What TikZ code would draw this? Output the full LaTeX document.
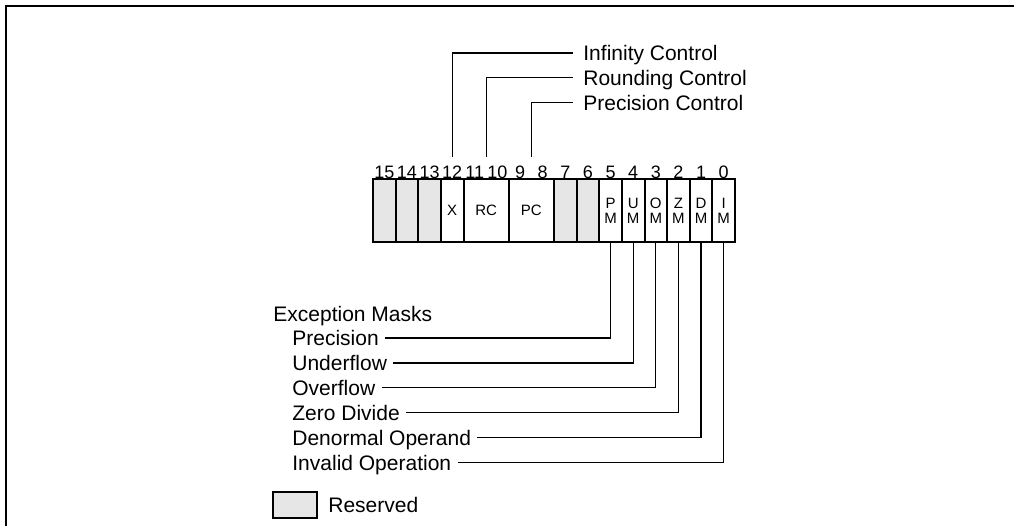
\documentclass[tikz,border=0pt]{standalone}
\usepackage{fontspec}
\setmainfont{Liberation Sans}
\usetikzlibrary{positioning}
\definecolor{resvgray}{HTML}{E6E6E6}
\tikzset{
  cell/.style={draw, line width=1pt, minimum width=11.3125pt, minimum height=31.5pt,
    inner sep=0pt, outer sep=0pt, align=center, font=\fontsize{7.5}{7.5}\selectfont},
  resv/.style={cell, fill=resvgray},
  bitnum/.style={inner sep=0pt, font=\fontsize{9}{9}\selectfont},
  lbl/.style={anchor=west, inner xsep=3pt, inner ysep=0pt, text height=7.5pt, text depth=0pt},
  wire/.style={line width=0.6pt}
}
\begin{document}
\begin{tikzpicture}[x=0.5pt, y=-0.5pt, every node/.style={font=\fontsize{10.5}{12}\selectfont}]
  \useasboundingbox (0,0) rectangle (1014,526);
  \draw[line width=1pt] (6,526) |- (1014,6);
  % register cells
  \foreach \b in {15,14,13,7,6}
    \node[resv] (b\b) at ({373+(15.5-\b)*22.625},210.5) {};
  \node[cell] (xf) at ({373+3.5*22.625},210.5) {X};
  \node[cell, minimum width=22.625pt] (rcf) at ({373+5*22.625},210.5) {RC};
  \node[cell, minimum width=22.625pt] (pcf) at ({373+7*22.625},210.5) {PC};
  \foreach \ltr [count=\i from 0] in {I,D,Z,O,U,P}
    \node[cell] (m\ltr) at ({373+(15.5-\i)*22.625},210.5) {\ltr\\M};
  \draw[line width=1.3pt] (b15.north west) rectangle (mI.south east);
  \foreach \b in {0,...,15}
    \node[bitnum] (n\b) at ({373+(15.5-\b)*22.625},172) {\b};
  % control fields
  \coordinate (tp) at (0,157);
  \node[lbl, inner xsep=5pt] (inf) at (573,53) {Infinity Control};
  \node[lbl, inner xsep=5pt] (rnd) at (573,77.5) {Rounding Control};
  \node[lbl, inner xsep=5pt] (prc) at (573,102.5) {Precision Control};
  \draw[wire] (xf |- tp) |- (inf.west);
  \draw[wire] (rcf |- tp) |- (rnd.west);
  \draw[wire] (pcf |- tp) |- (prc.west);
  % exception masks
  \node[lbl] (exc) at (267,314) {Exception Masks};
  \foreach \ltr/\txt [count=\i from 0] in {P/Precision,U/Underflow,O/Overflow,
      Z/Zero Divide,D/Denormal Operand,I/Invalid Operation} {
    \node[lbl] (e\ltr) at (286,{338+24.9*\i}) {\txt};
    \draw[wire] (e\ltr.east) -| (m\ltr.south);
  }
  % legend
  \node[resv, line width=0.8pt, minimum width=22pt, minimum height=13pt] (key) at (295,505) {};
  \node[lbl, right=2.5pt of key] (keytxt) {Reserved};
\end{tikzpicture}
\end{document}
